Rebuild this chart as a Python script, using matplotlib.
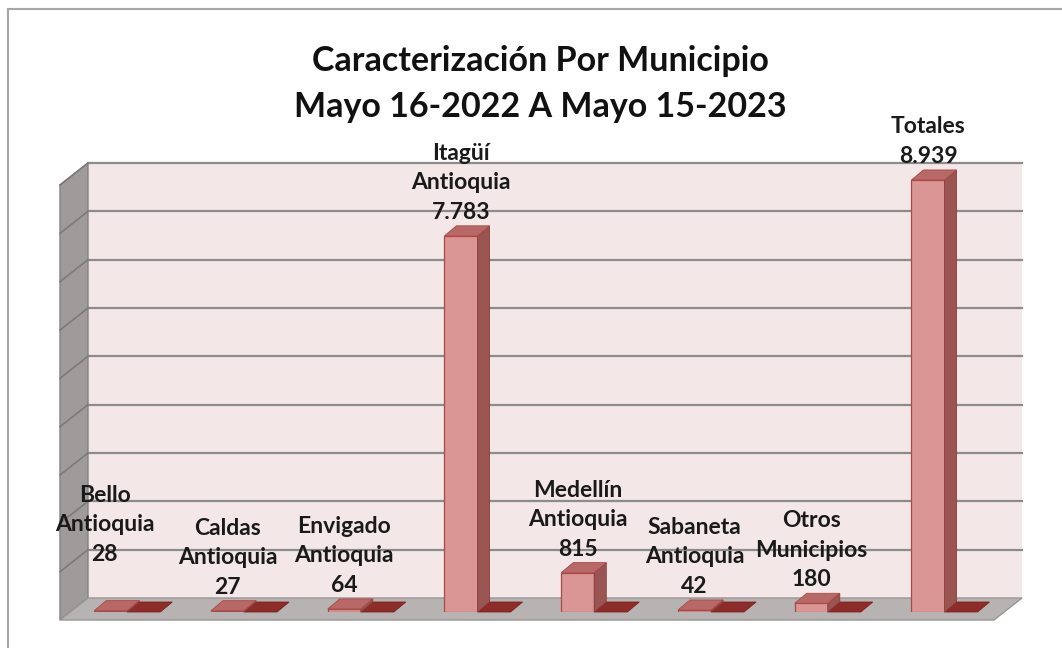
import matplotlib.pyplot as plt
from matplotlib.patches import Polygon
from matplotlib.lines import Line2D
from matplotlib.transforms import IdentityTransform

plt.rcParams['font.family'] = ['Lato', 'DejaVu Sans']

# data
categories = ["Bello\nAntioquia", "Caldas\nAntioquia", "Envigado\nAntioquia",
              "Itagüí\nAntioquia", "Medellín\nAntioquia", "Sabaneta\nAntioquia",
              "Otros\nMunicipios", "Totales"]
values = [28, 27, 64, 7783, 815, 42, 180, 8939]
y_max = 9000
y_step = 1000
title = "Caracterización Por Municipio\nMayo 16-2022 A Mayo 15-2023"

W, H, DPI = 1062, 648, 100
fig = plt.figure(figsize=(W / DPI, H / DPI), dpi=DPI)
ax = fig.add_axes([70 / W, 1 - 612 / H, (1004 - 70) / W, (612 - 177) / H])
ax.set_xlim(-0.349, 7.651)
ax.set_ylim(0, y_max)
ax.axis('off')

# pseudo 3d offsets in pixels (y up)
FRONT = (-10, -8)
BACK = (18, 14)
DEPTH = (12, 10)
bw = 0.283


def px(x, y, off=(0, 0)):
    X, Y = ax.transData.transform((x, y))
    return (X + off[0], Y + off[1])


def face(pts, fc, ec='none', lw=0.8, z=1):
    ax.add_patch(Polygon(pts, closed=True, facecolor=fc, edgecolor=ec, linewidth=lw,
                         transform=IdentityTransform(), clip_on=False, zorder=z))


def seg(a, b, color, lw, z=1):
    ax.add_line(Line2D([a[0], b[0]], [a[1], b[1]], color=color, lw=lw,
                       transform=IdentityTransform(), clip_on=False, zorder=z))


x0, x1 = ax.get_xlim()

# walls and floor
face([px(x0, 0, BACK), px(x1, 0, BACK), px(x1, y_max, BACK), px(x0, y_max, BACK)], '#f4e7e7', z=0)
face([px(x0, 0, FRONT), px(x0, 0, BACK), px(x0, y_max, BACK), px(x0, y_max, FRONT)],
     '#9f9b9b', ec='#858181', lw=1.0, z=0.5)
face([px(x0, 0, FRONT), px(x1, 0, FRONT), px(x1, 0, BACK), px(x0, 0, BACK)],
     '#b8b3b3', ec='#9a9595', lw=1.0, z=0.5)

# gridlines on back and left wall
for v in range(y_step, y_max + 1, y_step):
    a, b = px(x0, v, BACK), px(x1, v, BACK)
    seg(a, b, '#8c8c8c', 1.6)
    seg(px(x0, v, FRONT), a, '#7e7a7a', 1.2)

# bars
for i, v in enumerate(values):
    xl, xr = i - bw / 2, i + bw / 2
    # flat second block next to the bar
    face([px(xr, 0), px(xr + bw, 0), px(xr + bw, 0, DEPTH), px(xr, 0, DEPTH)],
         '#8e2c2a', ec='#7a2220', lw=0.6, z=2)
    ax.bar(i, v, width=bw, color='#d99694', edgecolor='#a94a48', linewidth=0.9, zorder=4)
    face([px(xr, 0), px(xr, 0, DEPTH), px(xr, v, DEPTH), px(xr, v)],
         '#9a5452', ec='#8a3c3a', lw=0.6, z=4)
    face([px(xl, v), px(xr, v), px(xr, v, DEPTH), px(xl, v, DEPTH)],
         '#b86866', ec='#a94a48', lw=0.6, z=4)

# data labels
label_shift = {0: (-6, 33)}
for i, (cat, v) in enumerate(zip(categories, values)):
    dx, dy = label_shift.get(i, (0, 0))
    txt = cat + "\n" + f"{v:,}".replace(",", ".")
    ax.annotate(txt, xy=(i, v), xytext=(dx, 13 + dy), textcoords='offset pixels',
                ha='center', va='bottom', fontsize=16.5, fontweight='bold',
                linespacing=1.5, color='#1a1a1a', zorder=6, annotation_clip=False)

fig.text(540 / W, 1 - 84 / H, title, ha='center', va='center', fontsize=24.5,
         fontweight='bold', linespacing=1.55, color='#111111')

# outer frame
fig.add_artist(Line2D([8 / W, 1], [1 - 9 / H, 1 - 9 / H], color='#a6a6a6', lw=1.5))
fig.add_artist(Line2D([8 / W, 8 / W], [0, 1 - 9 / H], color='#a6a6a6', lw=1.5))

fig.savefig('out.png', dpi=DPI, facecolor='white')
